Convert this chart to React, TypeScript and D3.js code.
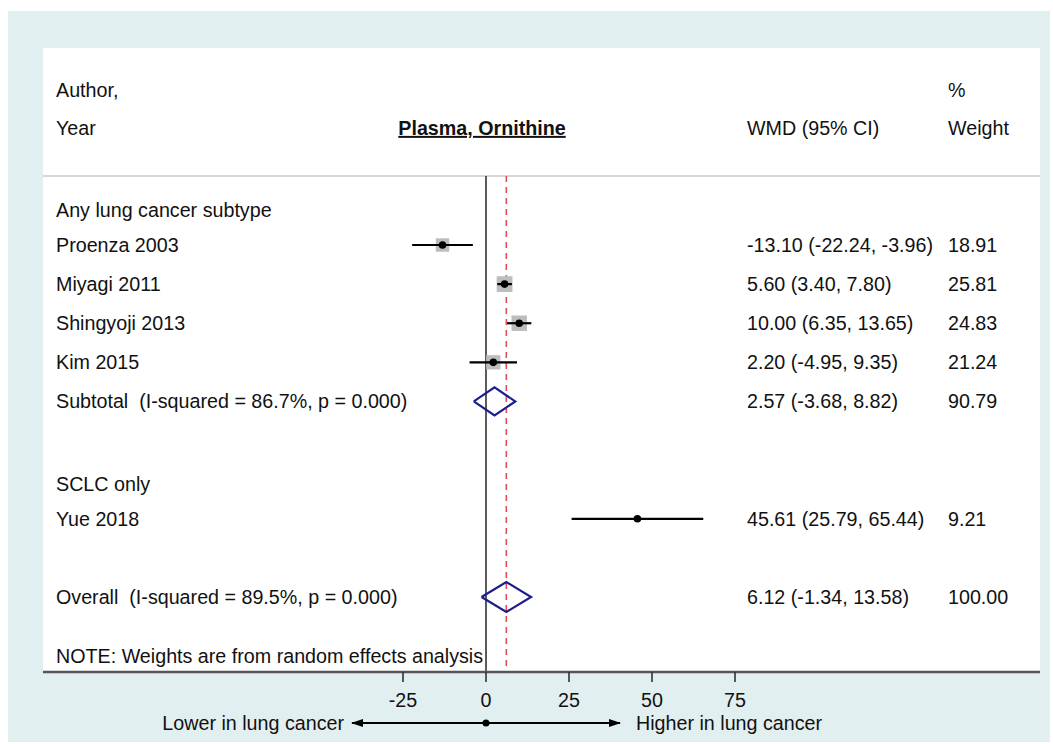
import React from "react";
import * as d3 from "d3";

const studyLabels = ["Proenza 2003", "Miyagi 2011", "Shingyoji 2013", "Kim 2015", "Yue 2018"];
const studyRows = [1, 2, 3, 4, 8];
const studyEst = [-13.1, 5.6, 10.0, 2.2, 45.61];
const studyLo = [-22.24, 3.4, 6.35, -4.95, 25.79];
const studyHi = [-3.96, 7.8, 13.65, 9.35, 65.44];
const studyWeight = [18.91, 25.81, 24.83, 21.24, 9.21];
const studyCI = ["-13.10 (-22.24, -3.96)", "5.60 (3.40, 7.80)", "10.00 (6.35, 13.65)", "2.20 (-4.95, 9.35)", "45.61 (25.79, 65.44)"];

const pooledLabels = ["Subtotal  (I-squared = 86.7%, p = 0.000)", "Overall  (I-squared = 89.5%, p = 0.000)"];
const pooledRows = [5, 10];
const pooledEst = [2.57, 6.12];
const pooledLo = [-3.68, -1.34];
const pooledHi = [8.82, 13.58];
const pooledCI = ["2.57 (-3.68, 8.82)", "6.12 (-1.34, 13.58)"];
const pooledWeight = ["90.79", "100.00"];

const groupLabels = ["Any lung cancer subtype", "SCLC only"];
const groupRows = [0, 7];

const xTicks = [-25, 0, 25, 50, 75];
const overallEffect = 6.12;

const W = 1053;
const H = 744;
const FONT = "'Liberation Sans', Arial, Helvetica, sans-serif";

export default function App() {
  const x = d3.scaleLinear().domain([-25, 75]).range([403, 735]);
  const y = d3.scaleLinear().domain([1, 10]).range([245, 597]);

  const panel = { l: 43, r: 1040, t: 48, b: 672 };
  const headerLine = 176;
  const txtX = 56;
  const ciX = 747;
  const wX = 948;
  const fs = 19.7;

  const boxSide = (w: number) => Math.sqrt(w) * 3.1;

  const diamond = (lo: number, est: number, hi: number, yy: number, h: number) =>
    d3.line()([
      [x(lo), yy],
      [x(est), yy - h],
      [x(hi), yy],
      [x(est), yy + h],
      [x(lo), yy],
    ]) as string;

  const pre = { whiteSpace: "pre" as const };

  return (
    <svg width={W} height={H} style={{ position: "absolute", left: 0, top: 0 }} fontFamily={FONT}>
      <rect x={0} y={0} width={W} height={H} fill="#ffffff" />
      <rect x={8} y={11} width={1042} height={731} fill="#e2eff0" />
      <rect x={panel.l} y={panel.t} width={panel.r - panel.l} height={panel.b - panel.t} fill="#ffffff" />

      {/* header */}
      <g fontSize={fs} fill="#111">
        <text x={txtX} y={90} dy="0.35em">Author,</text>
        <text x={txtX} y={128} dy="0.35em">Year</text>
        <text x={wX} y={90} dy="0.35em">%</text>
        <text x={wX} y={128} dy="0.35em">Weight</text>
        <text x={ciX} y={128} dy="0.35em">WMD (95% CI)</text>
        <text x={482} y={128} dy="0.35em" textAnchor="middle" fontWeight="bold" textDecoration="underline">
          Plasma, Ornithine
        </text>
      </g>
      <line x1={panel.l} x2={panel.r} y1={headerLine} y2={headerLine} stroke="#c8c8c8" strokeWidth={1.5} />

      {/* zero line */}
      <line x1={x(0)} x2={x(0)} y1={headerLine} y2={panel.b} stroke="#333" strokeWidth={1.6} />
      {/* overall dashed line */}
      <line
        x1={x(overallEffect)}
        x2={x(overallEffect)}
        y1={headerLine}
        y2={panel.b}
        stroke="#e0505a"
        strokeWidth={1.6}
        strokeDasharray="6,5"
      />

      {/* group labels */}
      <g fontSize={fs} fill="#111">
        {groupLabels.map((g, i) => (
          <text key={g} x={txtX} y={y(groupRows[i]) + 4} dy="0.35em">{g}</text>
        ))}
      </g>

      {/* studies */}
      {studyLabels.map((s, i) => {
        const yy = y(studyRows[i]);
        const side = boxSide(studyWeight[i]);
        return (
          <g key={s}>
            {studyWeight[i] > 10 && (
              <rect x={x(studyEst[i]) - side / 2} y={yy - side / 2} width={side} height={side} fill="#bdbdbd" />
            )}
            <line x1={x(studyLo[i])} x2={x(studyHi[i])} y1={yy} y2={yy} stroke="#000" strokeWidth={2.2} />
            <circle cx={x(studyEst[i])} cy={yy} r={3.8} fill="#000" />
            <text x={txtX} y={yy} dy="0.35em" fontSize={fs} fill="#111">{s}</text>
            <text x={ciX} y={yy} dy="0.35em" fontSize={fs} fill="#111">{studyCI[i]}</text>
            <text x={wX} y={yy} dy="0.35em" fontSize={fs} fill="#111">{studyWeight[i].toFixed(2)}</text>
          </g>
        );
      })}

      {/* pooled */}
      {pooledLabels.map((s, i) => {
        const yy = y(pooledRows[i]);
        return (
          <g key={s}>
            <path d={diamond(pooledLo[i], pooledEst[i], pooledHi[i], yy, i === 0 ? 14 : 15)} fill="none" stroke="#1c1f8a" strokeWidth={2.2} />
            <text x={txtX} y={yy} dy="0.35em" fontSize={fs} fill="#111" style={pre}>{s}</text>
            <text x={ciX} y={yy} dy="0.35em" fontSize={fs} fill="#111">{pooledCI[i]}</text>
            <text x={wX} y={yy} dy="0.35em" fontSize={fs} fill="#111">{pooledWeight[i]}</text>
          </g>
        );
      })}

      <text x={txtX} y={y(11.5)} dy="0.35em" fontSize={fs} fill="#111">
        NOTE: Weights are from random effects analysis
      </text>

      {/* axis */}
      <line x1={panel.l} x2={panel.r} y1={panel.b} y2={panel.b} stroke="#555" strokeWidth={2.4} />
      {xTicks.map((t) => (
        <g key={t}>
          <line x1={x(t)} x2={x(t)} y1={panel.b} y2={panel.b + 10} stroke="#333" strokeWidth={1.6} />
          <text x={x(t)} y={700} dy="0.35em" textAnchor="middle" fontSize={fs} fill="#111">{t}</text>
        </g>
      ))}

      {/* direction arrows */}
      <defs>
        <marker id="arrowR" markerWidth="12" markerHeight="8" refX="11" refY="4" orient="auto" markerUnits="userSpaceOnUse">
          <path d="M0,0 L12,4 L0,8 Z" fill="#000" />
        </marker>
        <marker id="arrowL" markerWidth="12" markerHeight="8" refX="11" refY="4" orient="auto" markerUnits="userSpaceOnUse">
          <path d="M0,0 L12,4 L0,8 Z" fill="#000" />
        </marker>
      </defs>
      <line x1={x(0)} x2={620} y1={723} y2={723} stroke="#000" strokeWidth={2} markerEnd="url(#arrowR)" />
      <line x1={x(0)} x2={352} y1={723} y2={723} stroke="#000" strokeWidth={2} markerEnd="url(#arrowL)" />
      <circle cx={x(0)} cy={723} r={3.5} fill="#000" />
      <text x={344} y={723} dy="0.35em" textAnchor="end" fontSize={fs} fill="#111">Lower in lung cancer</text>
      <text x={636} y={723} dy="0.35em" fontSize={fs} fill="#111">Higher in lung cancer</text>
    </svg>
  );
}
